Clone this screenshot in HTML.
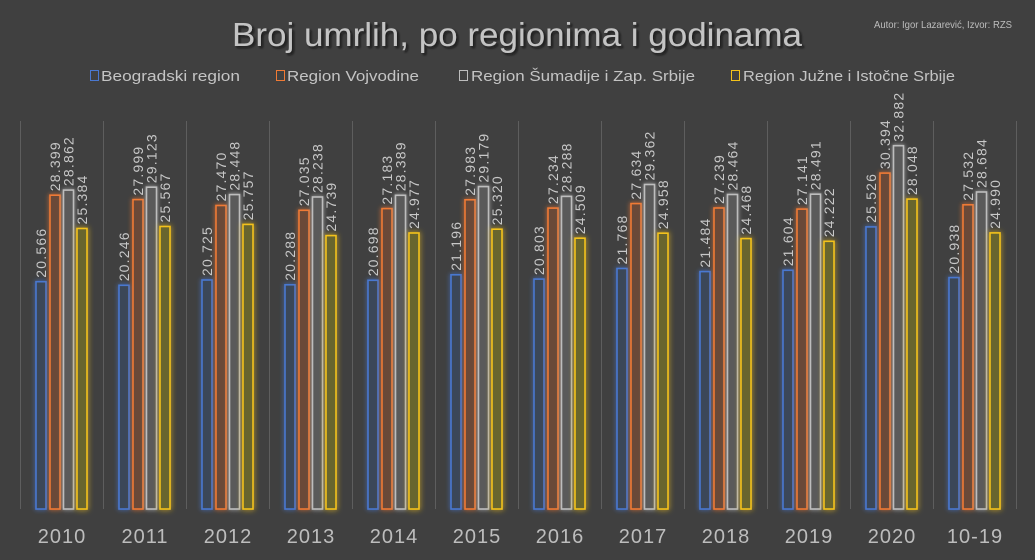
<!DOCTYPE html>
<html><head><meta charset="utf-8"><style>
html,body{margin:0;padding:0;background:#404040;}
svg{display:block;}
text{font-family:"Liberation Sans",sans-serif;}
.v{font-size:14px;fill:#c8c8c8;letter-spacing:1.2px;}
.yr{font-size:20px;fill:#bdbdbd;text-anchor:middle;letter-spacing:1px;}
.b{fill:#3b4658;stroke:#4a78d0;stroke-width:1.6;filter:url(#gb);}
.o{fill:#6a4a37;stroke:#ef7a35;stroke-width:1.6;filter:url(#go);}
.g{fill:#5a5a5a;stroke:#bdbdbd;stroke-width:1.6;filter:url(#gg);}
.y{fill:#68652f;stroke:#f3c21a;stroke-width:1.6;filter:url(#gy);}
</style></head><body>
<svg width="1035" height="560" viewBox="0 0 1035 560" xmlns="http://www.w3.org/2000/svg">
<defs>
<filter id="gb" x="-100%" y="-10%" width="300%" height="120%"><feGaussianBlur in="SourceGraphic" stdDeviation="2.5" result="bl"/><feMerge><feMergeNode in="bl"/><feMergeNode in="SourceGraphic"/></feMerge></filter>
<filter id="go" x="-100%" y="-10%" width="300%" height="120%"><feGaussianBlur in="SourceGraphic" stdDeviation="2.5" result="bl"/><feMerge><feMergeNode in="bl"/><feMergeNode in="SourceGraphic"/></feMerge></filter>
<filter id="gg" x="-100%" y="-10%" width="300%" height="120%"><feGaussianBlur in="SourceGraphic" stdDeviation="2" result="bl"/><feMerge><feMergeNode in="bl"/><feMergeNode in="SourceGraphic"/></feMerge></filter>
<filter id="gy" x="-100%" y="-10%" width="300%" height="120%"><feGaussianBlur in="SourceGraphic" stdDeviation="3" result="bl"/><feMerge><feMergeNode in="bl"/><feMergeNode in="SourceGraphic"/></feMerge></filter>
<filter id="ts"><feDropShadow dx="2" dy="2" stdDeviation="1" flood-color="#111" flood-opacity="0.8"/></filter>
</defs>
<rect width="1035" height="560" fill="#404040"/>
<text x="517" y="46" text-anchor="middle" font-size="33" fill="#c4c4c4" textLength="570" lengthAdjust="spacingAndGlyphs" filter="url(#ts)">Broj umrlih, po regionima i godinama</text>
<text x="1012" y="28" text-anchor="end" font-size="10" fill="#bdbdbd" textLength="138" lengthAdjust="spacingAndGlyphs">Autor: Igor Lazarević, Izvor: RZS</text>
<g font-size="15" fill="#c4c4c4">
<rect x="90.5" y="70.5" width="8" height="10" fill="none" stroke="#4a78d0"/><text x="101" y="81" textLength="139" lengthAdjust="spacingAndGlyphs">Beogradski region</text>
<rect x="276.5" y="70.5" width="8" height="10" fill="none" stroke="#ef7a35"/><text x="287" y="81" textLength="132" lengthAdjust="spacingAndGlyphs">Region Vojvodine</text>
<rect x="459.5" y="70.5" width="8" height="10" fill="none" stroke="#bdbdbd"/><text x="471" y="81" textLength="224" lengthAdjust="spacingAndGlyphs">Region Šumadije i Zap. Srbije</text>
<rect x="731.5" y="70.5" width="8" height="10" fill="none" stroke="#f3c21a"/><text x="743" y="81" textLength="212" lengthAdjust="spacingAndGlyphs">Region Južne i Istočne Srbije</text>
</g>
<g stroke="#5e5e5e" stroke-width="1">
<line x1="20.5" y1="121" x2="20.5" y2="509"/><line x1="103.5" y1="121" x2="103.5" y2="509"/><line x1="186.5" y1="121" x2="186.5" y2="509"/><line x1="269.5" y1="121" x2="269.5" y2="509"/><line x1="352.5" y1="121" x2="352.5" y2="509"/><line x1="435.5" y1="121" x2="435.5" y2="509"/><line x1="518.5" y1="121" x2="518.5" y2="509"/><line x1="601.5" y1="121" x2="601.5" y2="509"/><line x1="684.5" y1="121" x2="684.5" y2="509"/><line x1="767.5" y1="121" x2="767.5" y2="509"/><line x1="850.5" y1="121" x2="850.5" y2="509"/><line x1="933.5" y1="121" x2="933.5" y2="509"/><line x1="1016.5" y1="121" x2="1016.5" y2="509"/>
</g>

<g transform="translate(0,0)">
<rect class="b" x="36" y="281.7" width="10" height="227.3"/><rect class="o" x="50" y="195.2" width="10" height="313.8"/><rect class="g" x="63.5" y="190.1" width="10" height="318.9"/><rect class="y" x="77" y="228.5" width="10" height="280.5"/>
<text class="v" transform="translate(46,277.7) rotate(-90)">20.566</text><text class="v" transform="translate(60,191.2) rotate(-90)">28.399</text><text class="v" transform="translate(73.5,186.1) rotate(-90)">28.862</text><text class="v" transform="translate(87,224.5) rotate(-90)">25.384</text>
<text class="yr" x="62" y="543">2010</text></g>

<g transform="translate(83,0)">
<rect class="b" x="36" y="285.3" width="10" height="223.7"/><rect class="o" x="50" y="199.6" width="10" height="309.4"/><rect class="g" x="63.5" y="187.2" width="10" height="321.8"/><rect class="y" x="77" y="226.5" width="10" height="282.5"/>
<text class="v" transform="translate(46,281.3) rotate(-90)">20.246</text><text class="v" transform="translate(60,195.6) rotate(-90)">27.999</text><text class="v" transform="translate(73.5,183.2) rotate(-90)">29.123</text><text class="v" transform="translate(87,222.5) rotate(-90)">25.567</text>
<text class="yr" x="62" y="543">2011</text></g>

<g transform="translate(166,0)">
<rect class="b" x="36" y="280" width="10" height="229"/><rect class="o" x="50" y="205.5" width="10" height="303.5"/><rect class="g" x="63.5" y="194.6" width="10" height="314.4"/><rect class="y" x="77" y="224.4" width="10" height="284.6"/>
<text class="v" transform="translate(46,276) rotate(-90)">20.725</text><text class="v" transform="translate(60,201.5) rotate(-90)">27.470</text><text class="v" transform="translate(73.5,190.6) rotate(-90)">28.448</text><text class="v" transform="translate(87,220.4) rotate(-90)">25.757</text>
<text class="yr" x="62" y="543">2012</text></g>

<g transform="translate(249,0)">
<rect class="b" x="36" y="284.8" width="10" height="224.2"/><rect class="o" x="50" y="210.3" width="10" height="298.7"/><rect class="g" x="63.5" y="197" width="10" height="312"/><rect class="y" x="77" y="235.6" width="10" height="273.4"/>
<text class="v" transform="translate(46,280.8) rotate(-90)">20.288</text><text class="v" transform="translate(60,206.3) rotate(-90)">27.035</text><text class="v" transform="translate(73.5,193) rotate(-90)">28.238</text><text class="v" transform="translate(87,231.6) rotate(-90)">24.739</text>
<text class="yr" x="62" y="543">2013</text></g>

<g transform="translate(332,0)">
<rect class="b" x="36" y="280.3" width="10" height="228.7"/><rect class="o" x="50" y="208.6" width="10" height="300.4"/><rect class="g" x="63.5" y="195.3" width="10" height="313.7"/><rect class="y" x="77" y="233" width="10" height="276"/>
<text class="v" transform="translate(46,276.3) rotate(-90)">20.698</text><text class="v" transform="translate(60,204.6) rotate(-90)">27.183</text><text class="v" transform="translate(73.5,191.3) rotate(-90)">28.389</text><text class="v" transform="translate(87,229) rotate(-90)">24.977</text>
<text class="yr" x="62" y="543">2014</text></g>

<g transform="translate(415,0)">
<rect class="b" x="36" y="274.8" width="10" height="234.2"/><rect class="o" x="50" y="199.8" width="10" height="309.2"/><rect class="g" x="63.5" y="186.6" width="10" height="322.4"/><rect class="y" x="77" y="229.2" width="10" height="279.8"/>
<text class="v" transform="translate(46,270.8) rotate(-90)">21.196</text><text class="v" transform="translate(60,195.8) rotate(-90)">27.983</text><text class="v" transform="translate(73.5,182.6) rotate(-90)">29.179</text><text class="v" transform="translate(87,225.2) rotate(-90)">25.320</text>
<text class="yr" x="62" y="543">2015</text></g>

<g transform="translate(498,0)">
<rect class="b" x="36" y="279.1" width="10" height="229.9"/><rect class="o" x="50" y="208.1" width="10" height="300.9"/><rect class="g" x="63.5" y="196.4" width="10" height="312.6"/><rect class="y" x="77" y="238.2" width="10" height="270.8"/>
<text class="v" transform="translate(46,275.1) rotate(-90)">20.803</text><text class="v" transform="translate(60,204.1) rotate(-90)">27.234</text><text class="v" transform="translate(73.5,192.4) rotate(-90)">28.288</text><text class="v" transform="translate(87,234.2) rotate(-90)">24.509</text>
<text class="yr" x="62" y="543">2016</text></g>

<g transform="translate(581,0)">
<rect class="b" x="36" y="268.5" width="10" height="240.5"/><rect class="o" x="50" y="203.6" width="10" height="305.4"/><rect class="g" x="63.5" y="184.5" width="10" height="324.5"/><rect class="y" x="77" y="233.2" width="10" height="275.8"/>
<text class="v" transform="translate(46,264.5) rotate(-90)">21.768</text><text class="v" transform="translate(60,199.6) rotate(-90)">27.634</text><text class="v" transform="translate(73.5,180.5) rotate(-90)">29.362</text><text class="v" transform="translate(87,229.2) rotate(-90)">24.958</text>
<text class="yr" x="62" y="543">2017</text></g>

<g transform="translate(664,0)">
<rect class="b" x="36" y="271.6" width="10" height="237.4"/><rect class="o" x="50" y="208" width="10" height="301"/><rect class="g" x="63.5" y="194.5" width="10" height="314.5"/><rect class="y" x="77" y="238.6" width="10" height="270.4"/>
<text class="v" transform="translate(46,267.6) rotate(-90)">21.484</text><text class="v" transform="translate(60,204) rotate(-90)">27.239</text><text class="v" transform="translate(73.5,190.5) rotate(-90)">28.464</text><text class="v" transform="translate(87,234.6) rotate(-90)">24.468</text>
<text class="yr" x="62" y="543">2018</text></g>

<g transform="translate(747,0)">
<rect class="b" x="36" y="270.3" width="10" height="238.7"/><rect class="o" x="50" y="209.1" width="10" height="299.9"/><rect class="g" x="63.5" y="194.2" width="10" height="314.8"/><rect class="y" x="77" y="241.3" width="10" height="267.7"/>
<text class="v" transform="translate(46,266.3) rotate(-90)">21.604</text><text class="v" transform="translate(60,205.1) rotate(-90)">27.141</text><text class="v" transform="translate(73.5,190.2) rotate(-90)">28.491</text><text class="v" transform="translate(87,237.3) rotate(-90)">24.222</text>
<text class="yr" x="62" y="543">2019</text></g>

<g transform="translate(830,0)">
<rect class="b" x="36" y="226.9" width="10" height="282.1"/><rect class="o" x="50" y="173.1" width="10" height="335.9"/><rect class="g" x="63.5" y="145.7" width="10" height="363.3"/><rect class="y" x="77" y="199.1" width="10" height="309.9"/>
<text class="v" transform="translate(46,222.9) rotate(-90)">25.526</text><text class="v" transform="translate(60,169.1) rotate(-90)">30.394</text><text class="v" transform="translate(73.5,141.7) rotate(-90)">32.882</text><text class="v" transform="translate(87,195.1) rotate(-90)">28.048</text>
<text class="yr" x="62" y="543">2020</text></g>

<g transform="translate(913,0)">
<rect class="b" x="36" y="277.6" width="10" height="231.4"/><rect class="o" x="50" y="204.8" width="10" height="304.2"/><rect class="g" x="63.5" y="192" width="10" height="317"/><rect class="y" x="77" y="232.9" width="10" height="276.1"/>
<text class="v" transform="translate(46,273.6) rotate(-90)">20.938</text><text class="v" transform="translate(60,200.8) rotate(-90)">27.532</text><text class="v" transform="translate(73.5,188) rotate(-90)">28.684</text><text class="v" transform="translate(87,228.9) rotate(-90)">24.990</text>
<text class="yr" x="62" y="543">10-19</text></g>
</svg>
</body></html>
